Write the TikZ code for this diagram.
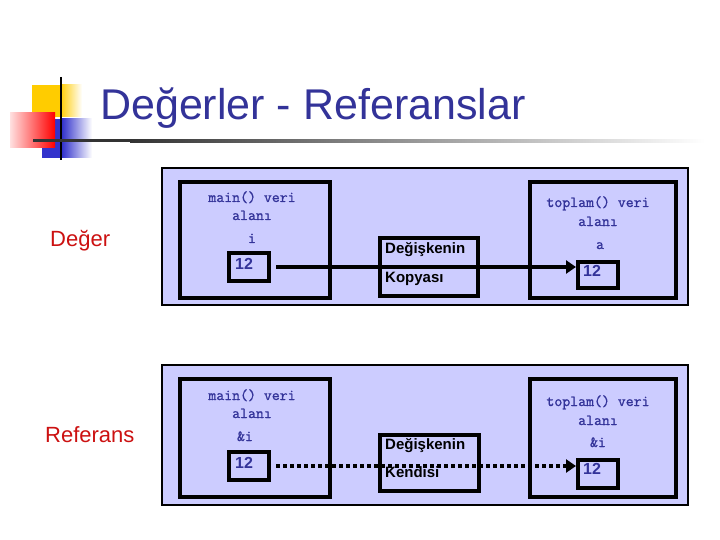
\documentclass[tikz,border=0pt]{standalone}
\usepackage{fontspec}
\setmainfont{Liberation Sans}
\newfontfamily\monof[FakeBold=1.2]{Latin Modern Mono}
\usetikzlibrary{arrows.meta}
\definecolor{navy}{RGB}{51,51,153}
\definecolor{lav}{RGB}{204,204,255}
\definecolor{lblred}{RGB}{204,17,17}
\definecolor{yel}{RGB}{255,204,0}
\definecolor{bul}{RGB}{51,51,204}
\begin{document}
\begin{tikzpicture}[x=1pt,y=-1pt,
 panel/.style={draw=black, line width=2pt, fill=lav, inner sep=0pt},
 area/.style={draw=black, line width=4pt, inner sep=0pt},
 cell/.style={draw=black, line width=4pt, inner sep=0pt, minimum width=40pt, minimum height=28pt},
 midbox/.style={draw=black, line width=4pt, inner sep=0pt},
 monot/.style={font=\monof\fontsize{15.4}{16}\selectfont, text=navy, inner sep=0pt, anchor=base},
 numt/.style={font=\bfseries\fontsize{16}{17}\selectfont, text=navy, inner sep=0pt, anchor=base west},
 midt/.style={font=\bfseries\fontsize{15}{16}\selectfont, text=black, inner sep=0pt, anchor=base west},
 side/.style={font=\fontsize{22}{24}\selectfont, text=lblred, inner sep=0pt, anchor=base west},
 conn/.style={line width=4pt, -{Triangle[length=10pt,width=13pt]}, shorten <=5pt},
]
\useasboundingbox (0,0) rectangle (720,540);
\fill[white] (0,0) rectangle (720,540);
% decoration
\fill[yel] (32,85) rectangle (60,117);
\shade[left color=yel, right color=white] (60,85) rectangle (82,117);
\fill[bul] (42,119) rectangle (62,158);
\shade[left color=bul, right color=white] (62,119) rectangle (92,158);
\shade[left color=red!12, right color=red] (10,113) rectangle (55,148);
\draw[line width=2pt] (61,77) -- (61,160);
\fill[black!80] (33,139.5) rectangle (130,142.5);
\shade[left color=black!80, right color=white] (130,139.5) rectangle (705,142.5);
% title
\node[font=\fontsize{43}{47}\selectfont, text=navy, inner sep=0pt, anchor=base west] (title) at (100,120) {Değerler - Referanslar};
% side labels
\node[side] (lval) at (50,247) {Değer};
\node[side] (lref) at (45,442) {Referans};
% ---- panel 1
\node[panel, minimum width=526pt, minimum height=137pt] (p1) at (425,236.5) {};
\node[area, minimum width=150pt, minimum height=116pt] (m1) at (255,240) {};
\node[area, minimum width=146pt, minimum height=116pt] (t1) at (603,240) {};
\node[midbox, minimum width=98pt, minimum height=58pt] (c1) at (429,267) {};
\node[cell] (sl1) at (249,267) {};
\node[cell, minimum height=26pt] (sr1) at (598,275) {};
\node[monot] (m1a) at (252,202) {main() veri};
\node[monot] (m1b) at (252,220) {alanı};
\node[monot] (m1c) at (252,243) {i};
\node[numt] (n1l) at (235,269) {12};
\node[monot] (t1a) at (598,207) {toplam() veri};
\node[monot] (t1b) at (598,226) {alanı};
\node[monot] (t1c) at (600,249) {a};
\node[numt] (n1r) at (583,276) {12};
\node[midt] (c1a) at (385,254) {Değişkenin};
\node[midt] (c1b) at (385,282) {Kopyası};
\draw[conn] (sl1.east) -- (sl1.east -| sr1.west);
% ---- panel 2
\node[panel, minimum width=526pt, minimum height=140pt] (p2) at (425,435) {};
\node[area, minimum width=150pt, minimum height=118pt] (m2) at (255,438) {};
\node[area, minimum width=146pt, minimum height=118pt] (t2) at (603,438) {};
\node[midbox, minimum width=99pt, minimum height=56pt] (c2) at (429.5,463) {};
\node[cell] (sl2) at (249,466) {};
\node[cell] (sr2) at (598,474) {};
\node[monot] (m2a) at (252,400) {main() veri};
\node[monot] (m2b) at (252,418) {alanı};
\node[monot] (m2c) at (245,441) {\&i};
\node[numt] (n2l) at (235,468) {12};
\node[monot] (t2a) at (598,406) {toplam() veri};
\node[monot] (t2b) at (598,425) {alanı};
\node[monot] (t2c) at (598,447) {\&i};
\node[numt] (n2r) at (583,474) {12};
\node[midt] (c2a) at (385,449) {Değişkenin};
\node[midt] (c2b) at (385,477) {Kendisi};
\draw[conn, dash pattern=on 4pt off 3pt] (sl2.east) -- (sl2.east -| sr2.west);
\end{tikzpicture}
\end{document}
